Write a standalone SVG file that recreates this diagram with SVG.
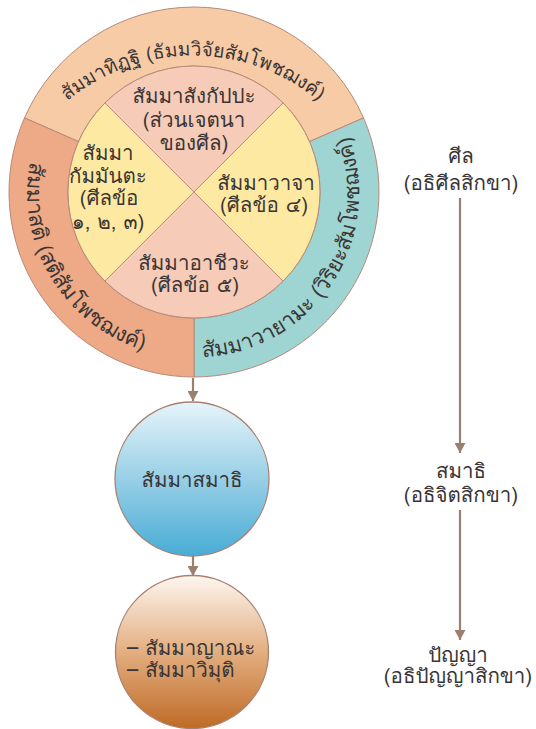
<svg xmlns="http://www.w3.org/2000/svg" width="536" height="729" viewBox="0 0 536 729">
<defs>
<style>
.t{font-family:"Loma","Waree","Noto Sans Thai Looped","Noto Sans Thai","Noto Sans","DejaVu Sans",sans-serif;font-size:20.5px;fill:#3a3535}
.a{font-size:19.2px}
.s{font-size:21.5px}
.c{text-anchor:middle}
.seg{stroke:#b58a78;stroke-width:1}
.conn{stroke:#9b8070;stroke-width:2.2;fill:none}
</style>
<marker id="ah" markerUnits="userSpaceOnUse" markerWidth="11" markerHeight="11" refX="10" refY="5.5" orient="auto" viewBox="0 0 10 11">
<path d="M0,0 L10,5.5 L0,11 Z" fill="#9b8070"/>
</marker>
<linearGradient id="gBlue" x1="0" y1="0" x2="0" y2="1">
<stop offset="0" stop-color="#e6f4fa"/>
<stop offset="0.5" stop-color="#98cfe6"/>
<stop offset="1" stop-color="#48acd6"/>
</linearGradient>
<linearGradient id="gBrown" x1="0" y1="0" x2="0" y2="1">
<stop offset="0" stop-color="#fdf6f0"/>
<stop offset="0.5" stop-color="#e3ae80"/>
<stop offset="1" stop-color="#bf6a26"/>
</linearGradient>
<path id="pTop" d="M22.8,154.4 A196,196 0 0 1 363.2,154.4"/>
<path id="pLeft" d="M50.1,109.5 A164,164 0 0 0 198.8,356.9"/>
<path id="pRight" d="M164.4,354.5 A164,164 0 0 0 331.4,102.1"/>
</defs>

<g id="wheel">
<g id="ring-top">
<path class="seg" fill="#f7cba6" d="M24.5,117.9 A185,185 0 0 1 363.5,117.9 L309.5,141.6 A126,126 0 0 0 78.5,141.6 Z"/>
<text class="t a c"><textPath href="#pTop" startOffset="50%">สัมมาทิฏฐิ (ธัมมวิจัยสัมโพชฌงค์)</textPath></text>
</g>
<g id="ring-right">
<path class="seg" fill="#9ed4d1" d="M363.5,117.9 A185,185 0 0 1 194,377 L194,318 A126,126 0 0 0 309.5,141.6 Z"/>
<text class="t s c"><textPath href="#pRight" startOffset="50%">สัมมาวายามะ (วิริยะสัมโพชฌงค์)</textPath></text>
</g>
<g id="ring-left">
<path class="seg" fill="#eea986" d="M194,377 A185,185 0 0 1 24.5,117.9 L78.5,141.6 A126,126 0 0 0 194,318 Z"/>
<text class="t s c"><textPath href="#pLeft" startOffset="50%">สัมมาสติ (สติสัมโพชฌงค์)</textPath></text>
</g>
<g id="pie-top">
<path class="seg" fill="#f6cbb8" d="M194,192 L104.9,102.9 A126,126 0 0 1 283.1,102.9 Z"/>
<text class="t c" x="194" y="103">สัมมาสังกัปปะ</text>
<text class="t c" x="194" y="127">(ส่วนเจตนา</text>
<text class="t c" x="194" y="150">ของศีล)</text>
</g>
<g id="pie-right">
<path class="seg" fill="#fde9a2" d="M194,192 L283.1,102.9 A126,126 0 0 1 283.1,281.1 Z"/>
<text class="t c" x="266" y="190">สัมมาวาจา</text>
<text class="t c" x="264" y="212">(ศีลข้อ ๔)</text>
</g>
<g id="pie-bottom">
<path class="seg" fill="#f6cbb8" d="M194,192 L283.1,281.1 A126,126 0 0 1 104.9,281.1 Z"/>
<text class="t c" x="194" y="270">สัมมาอาชีวะ</text>
<text class="t c" x="195" y="292">(ศีลข้อ ๕)</text>
</g>
<g id="pie-left">
<path class="seg" fill="#fde9a2" d="M194,192 L104.9,281.1 A126,126 0 0 1 104.9,102.9 Z"/>
<text class="t c" x="108" y="160">สัมมา</text>
<text class="t c" x="108" y="183">กัมมันตะ</text>
<text class="t c" x="109" y="205">(ศีลข้อ</text>
<text class="t c" x="108" y="229">๑, ๒, ๓)</text>
</g>
</g>

<g id="samadhi-circle">
<circle cx="192" cy="479" r="77" fill="url(#gBlue)" stroke="#a88070" stroke-width="1.3"/>
<text class="t c" x="192" y="487">สัมมาสมาธิ</text>
</g>

<g id="panya-circle">
<circle cx="192" cy="652" r="76.5" fill="url(#gBrown)" stroke="#a88070" stroke-width="1.3"/>
<text class="t" x="127" y="655">– สัมมาญาณะ</text>
<text class="t" x="127" y="677">– สัมมาวิมุติ</text>
</g>

<g id="label-sila">
<text class="t c" x="461" y="163">ศีล</text>
<text class="t c" x="461" y="190">(อธิศีลสิกขา)</text>
</g>
<g id="label-samadhi">
<text class="t c" x="461" y="478">สมาธิ</text>
<text class="t c" x="461" y="502">(อธิจิตสิกขา)</text>
</g>
<g id="label-panya">
<text class="t c" x="458" y="662">ปัญญา</text>
<text class="t c" x="458" y="683">(อธิปัญญาสิกขา)</text>
</g>

<g id="connectors">
<line class="conn" x1="193" y1="378" x2="193" y2="401" marker-end="url(#ah)"/>
<line class="conn" x1="193" y1="556" x2="193" y2="576" marker-end="url(#ah)"/>
<line class="conn" x1="460" y1="198" x2="460" y2="453" marker-end="url(#ah)"/>
<line class="conn" x1="460" y1="510" x2="460" y2="640" marker-end="url(#ah)"/>
</g>
</svg>
